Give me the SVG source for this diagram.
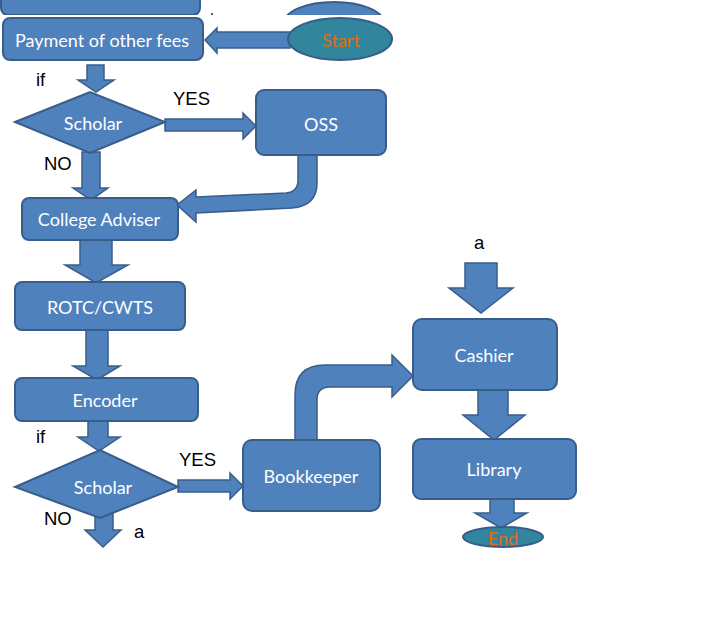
<svg xmlns="http://www.w3.org/2000/svg" width="709" height="630" viewBox="0 0 709 630">
<defs>
<style>
.shape{fill:#4F81BD;stroke:#385D8A;stroke-width:2}
.term{fill:#31859C;stroke:#385D8A;stroke-width:2}
.arrow{fill:#4F81BD;stroke:#385D8A;stroke-width:1.5;stroke-linejoin:miter}
.lbl{font-family:Lato,"Open Sans",sans-serif;font-size:18px;fill:#FFFFFF;text-anchor:middle;dominant-baseline:central}
.tlbl{font-family:Lato,"Open Sans",sans-serif;font-size:18px;fill:#E46C0A;text-anchor:middle;dominant-baseline:central}
.note{font-family:"Liberation Sans",Arial,sans-serif;font-size:18.5px;fill:#000000}
</style>
<clipPath id="topclip"><rect x="0" y="0" width="709" height="15"/></clipPath>
</defs>
<rect width="709" height="630" fill="#FFFFFF"/>

<g id="fragments" clip-path="url(#topclip)">
<rect class="shape" x="1" y="-30" width="199" height="45" rx="7"/>
<ellipse class="shape" cx="334" cy="23" rx="50" ry="21"/>
</g>
<rect x="211" y="13" width="2" height="2" fill="#385D8A"/>

<g id="connectors">
<polygon class="arrow" points="290,32 217,32 217,28 205,40 217,53 217,48 290,48"/>
<polygon class="arrow" points="87,65 104,65 104,80 114,80 96,92 78,80 87,80"/>
<polygon class="arrow" points="165,119 243,119 243,113 256,126 243,139 243,131 165,131"/>
<path class="arrow" d="M298,155 L298,180 Q298,192 286,193 L196,197 L196,190 L177,205 L196,222 L196,213 L292,208 Q317,206 317,183 L317,155 Z"/>
<polygon class="arrow" points="82,152 100,152 100,188 108,188 91,200 73,188 82,188"/>
<polygon class="arrow" points="80,240 112,240 112,265 128,265 96,283 65,265 80,265"/>
<polygon class="arrow" points="86,330 108,330 108,366 120,366 97,380 73,366 86,366"/>
<polygon class="arrow" points="88,421 108,421 108,437 120,437 99,451 78,437 88,437"/>
<polygon class="arrow" points="178,480 230,480 230,473 243,486 230,499 230,492 178,492"/>
<polygon class="arrow" points="95,510 113,510 113,530 121,530 103,547 85,530 95,530"/>
<path class="arrow" d="M295,440 L295,395 Q295,365 325,365 L392,365 L392,355 L413,376 L392,397 L392,387 L330,387 Q317,387 317,400 L317,440 Z"/>
<polygon class="arrow" points="465,263 497,263 497,288 513,288 481,313 449,288 465,288"/>
<polygon class="arrow" points="478,372 508,372 508,415 525,415 494,440 463,415 478,415"/>
<polygon class="arrow" points="490,499 514,499 514,513 527,513 501,528 475,513 490,513"/>
</g>

<g id="start">
<ellipse class="term" cx="340" cy="39" rx="52" ry="21"/>
<text class="tlbl" x="341" y="40">Start</text>
</g>
<g id="payment">
<rect class="shape" x="3" y="18" width="200" height="42" rx="7"/>
<text class="lbl" x="102" y="40">Payment of other fees</text>
</g>
<g id="scholar1">
<polygon class="shape" points="15,122 90,92 165,122 90,153"/>
<text class="lbl" x="93" y="123">Scholar</text>
</g>
<g id="oss">
<rect class="shape" x="256" y="90" width="130" height="65" rx="8"/>
<text class="lbl" x="321" y="124">OSS</text>
</g>
<g id="college">
<rect class="shape" x="22" y="198" width="156" height="42" rx="7"/>
<text class="lbl" x="99" y="219">College Adviser</text>
</g>
<g id="rotc">
<rect class="shape" x="15" y="282" width="170" height="48" rx="7"/>
<text class="lbl" x="100" y="307">ROTC/CWTS</text>
</g>
<g id="encoder">
<rect class="shape" x="15" y="378" width="183" height="43" rx="7"/>
<text class="lbl" x="105" y="400">Encoder</text>
</g>
<g id="scholar2">
<polygon class="shape" points="15,487 100,450 178,487 100,518"/>
<text class="lbl" x="103" y="487">Scholar</text>
</g>
<g id="bookkeeper">
<rect class="shape" x="243" y="440" width="137" height="71" rx="9"/>
<text class="lbl" x="311" y="476">Bookkeeper</text>
</g>
<g id="cashier">
<rect class="shape" x="413" y="319" width="144" height="71" rx="9"/>
<text class="lbl" x="484" y="355">Cashier</text>
</g>
<g id="library">
<rect class="shape" x="413" y="439" width="163" height="60" rx="8"/>
<text class="lbl" x="494" y="469">Library</text>
</g>
<g id="end">
<ellipse class="term" cx="503" cy="537" rx="40" ry="10"/>
<text class="tlbl" x="503" y="538">End</text>
</g>

<g id="labels">
<text class="note" x="36" y="86">if</text>
<text class="note" x="173" y="105">YES</text>
<text class="note" x="44" y="170">NO</text>
<text class="note" x="36" y="443">if</text>
<text class="note" x="179" y="466">YES</text>
<text class="note" x="44" y="525">NO</text>
<text class="note" x="134" y="538">a</text>
<text class="note" x="474" y="249">a</text>
</g>
</svg>
